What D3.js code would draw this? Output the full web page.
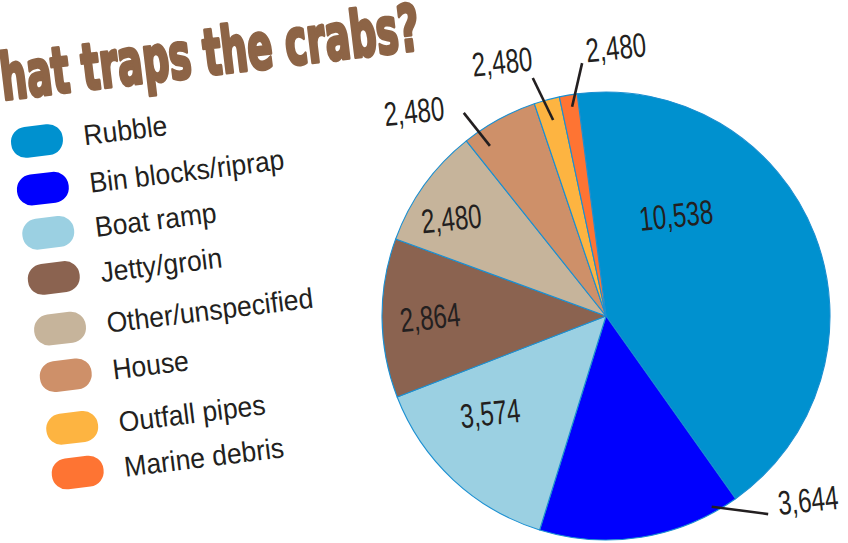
<!DOCTYPE html>
<html>
<head>
<meta charset="utf-8">
<script src="https://cdn.jsdelivr.net/npm/d3@7"></script>
<style>
  html, body { margin: 0; padding: 0; background: #ffffff; overflow: hidden; }
  svg { display: block; }
</style>
</head>
<body>
<svg id="chart" width="848" height="543"></svg>
<script>
// ---- data ----
const title = "What traps the crabs?";
const categories = ["Rubble", "Bin blocks/riprap", "Boat ramp", "Jetty/groin",
                    "Other/unspecified", "House", "Outfall pipes", "Marine debris"];
// slice sizes
const values = [10538, 3644, 3574, 2864, 2170, 1380, 460, 320];
// labels as printed on the picture
const valueLabels = ["10,538", "3,644", "3,574", "2,864", "2,480", "2,480", "2,480", "2,480"];
const colors = ["#0091cf", "#0000fe", "#9bd0e2", "#8b6350",
                "#c6b49b", "#ce9069", "#fdb441", "#fe7433"];

// ---- layout ----
const W = 848, H = 543;
const cx = 606, cy = 316, R = 224;
const startDeg = -7.4;
// label placement in polar coords [angleDeg clockwise from top, radius]
const labelPlacement = [
  { text: [34.7, 123] },
  { text: [132.3, 273], line: [[151, 218], [140.7, 256]] },
  { text: [230.1, 151] },
  { text: [269.7, 176] },
  { text: [302.3, 183] },
  { text: [316.9, 281], line: [[325.7, 206], [325, 248]] },
  { text: [337.8, 275], line: [[344.9, 203], [342.9, 249]] },
  { text: [2.1, 269],   line: [[350.8, 212], [354.6, 254]] }
];
const legendOrigin = [37, 141];
const legendRot = -7;
const legendSteps = [0, 48, 92.5, 138, 189, 236, 289, 334];

const svg = d3.select("#chart");
svg.append("rect").attr("width", W).attr("height", H).attr("fill", "#fff");

const polar = (a, r) => {
  const t = a * Math.PI / 180;
  return [cx + r * Math.sin(t), cy - r * Math.cos(t)];
};

// ---- pie ----
const pie = d3.pie().sort(null).value(d => d)
  .startAngle(startDeg * Math.PI / 180)
  .endAngle((startDeg + 360) * Math.PI / 180);
const arc = d3.arc().innerRadius(0).outerRadius(R);
const arcs = pie(values);

const gPie = svg.append("g").attr("transform", `translate(${cx},${cy})`);
gPie.selectAll("path").data(arcs).join("path")
  .attr("d", arc)
  .attr("fill", (d, i) => colors[i])
  .attr("stroke", "#1b8fd1")
  .attr("stroke-width", 1.1)
  .attr("stroke-linejoin", "round");

// leader lines
const gLab = svg.append("g");
labelPlacement.forEach((p, i) => {
  if (p.line) {
    const a = polar(p.line[0][0], p.line[0][1]);
    const b = polar(p.line[1][0], p.line[1][1]);
    gLab.append("line")
      .attr("x1", a[0]).attr("y1", a[1]).attr("x2", b[0]).attr("y2", b[1])
      .attr("stroke", "#231f20").attr("stroke-width", 2.6);
  }
});

// value labels
labelPlacement.forEach((p, i) => {
  const pos = polar(p.text[0], p.text[1]);
  gLab.append("g")
    .attr("transform", `translate(${pos[0]},${pos[1]}) rotate(-6) scale(0.71,1)`)
    .append("text")
    .attr("text-anchor", "middle")
    .attr("dy", "0.36em")
    .attr("font-family", "'Liberation Sans', Arial, sans-serif")
    .attr("font-size", 34)
    .attr("fill", "#231f20")
    .text(valueLabels[i]);
});

// ---- legend ----
const gLeg = svg.append("g")
  .attr("transform", `translate(${legendOrigin[0]},${legendOrigin[1]}) rotate(${legendRot})`);
categories.forEach((c, i) => {
  const g = gLeg.append("g").attr("transform", `translate(0,${legendSteps[i]})`);
  g.append("rect")
    .attr("x", -26).attr("y", -15.5).attr("width", 52).attr("height", 31)
    .attr("rx", 15).attr("ry", 15)
    .attr("fill", colors[i]);
  g.append("g").attr("transform", "translate(47,10) scale(0.93,1)")
    .append("text")
    .attr("font-family", "'Liberation Sans', Arial, sans-serif")
    .attr("font-size", 28.5)
    .attr("fill", "#231f20")
    .text(c);
});

// ---- title ----
const tg = svg.append("g");
const t = tg.append("text")
  .attr("font-family", "'DejaVu Sans Condensed', 'DejaVu Sans', sans-serif")
  .attr("font-stretch", "condensed")
  .attr("font-weight", "bold")
  .attr("font-size", 60)
  .attr("fill", "#8d6446")
  .attr("stroke", "#8d6446")
  .attr("stroke-width", 3.2)
  .attr("stroke-linejoin", "round")
  .text(title);
const full = t.node().getComputedTextLength();
const wW = t.node().getSubStringLength(0, 1);
const visible = full - wW;
const sx = 422 / visible;
tg.attr("transform", `translate(3,100) rotate(-6.9) scale(${sx},1.07) translate(${-wW},0)`);
</script>
</body>
</html>
